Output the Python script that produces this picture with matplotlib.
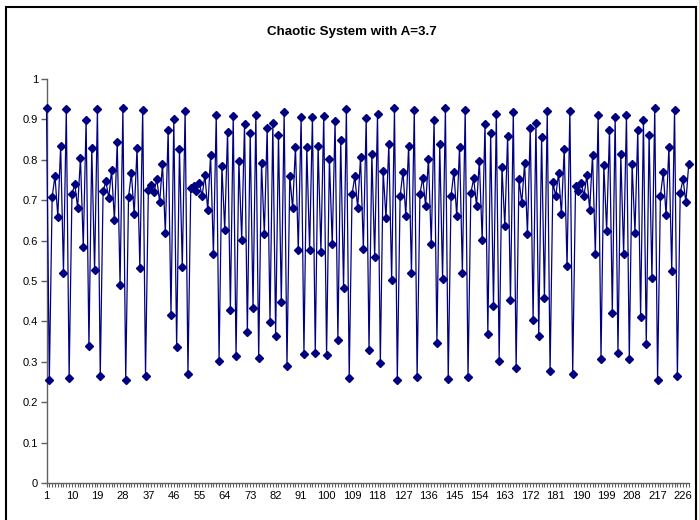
import matplotlib
matplotlib.use("Agg")
import matplotlib.pyplot as plt
from matplotlib.patches import Rectangle

plt.rcParams['font.family'] = ['Liberation Sans', 'DejaVu Sans']

title = "Chaotic System with A=3.7"

values = [
    0.927, 0.256, 0.708, 0.760, 0.659, 0.834, 0.520, 0.925, 0.261, 0.715,
    0.740, 0.681, 0.804, 0.585, 0.899, 0.338, 0.829, 0.526, 0.925, 0.264,
    0.722, 0.747, 0.705, 0.775, 0.651, 0.843, 0.491, 0.927, 0.256, 0.708,
    0.767, 0.665, 0.829, 0.531, 0.923, 0.266, 0.726, 0.738, 0.720, 0.752,
    0.695, 0.789, 0.620, 0.873, 0.417, 0.900, 0.336, 0.827, 0.534, 0.922,
    0.270, 0.731, 0.735, 0.724, 0.743, 0.711, 0.762, 0.675, 0.813, 0.566,
    0.911, 0.303, 0.785, 0.627, 0.870, 0.429, 0.908, 0.314, 0.797, 0.602,
    0.889, 0.373, 0.866, 0.432, 0.911, 0.309, 0.792, 0.616, 0.879, 0.399,
    0.891, 0.365, 0.861, 0.447, 0.918, 0.289, 0.759, 0.680, 0.832, 0.576,
    0.906, 0.320, 0.832, 0.576, 0.906, 0.323, 0.835, 0.573, 0.909, 0.317,
    0.802, 0.592, 0.896, 0.353, 0.848, 0.482, 0.926, 0.259, 0.715, 0.759,
    0.680, 0.807, 0.579, 0.903, 0.328, 0.815, 0.559, 0.913, 0.297, 0.772,
    0.655, 0.838, 0.502, 0.927, 0.256, 0.710, 0.771, 0.662, 0.835, 0.520,
    0.924, 0.262, 0.715, 0.756, 0.686, 0.802, 0.592, 0.899, 0.347, 0.838,
    0.505, 0.927, 0.257, 0.710, 0.771, 0.660, 0.832, 0.521, 0.924, 0.262,
    0.718, 0.754, 0.686, 0.797, 0.602, 0.889, 0.370, 0.866, 0.437, 0.913,
    0.301, 0.782, 0.635, 0.860, 0.452, 0.918, 0.284, 0.752, 0.693, 0.792,
    0.617, 0.879, 0.403, 0.891, 0.363, 0.856, 0.457, 0.920, 0.276, 0.744,
    0.710, 0.767, 0.665, 0.827, 0.536, 0.922, 0.271, 0.734, 0.724, 0.743,
    0.711, 0.762, 0.675, 0.813, 0.566, 0.911, 0.307, 0.787, 0.625, 0.873,
    0.422, 0.906, 0.323, 0.814, 0.566, 0.911, 0.307, 0.789, 0.620, 0.873,
    0.411, 0.898, 0.345, 0.861, 0.507, 0.927, 0.256, 0.710, 0.769, 0.663,
    0.832, 0.525, 0.924, 0.264, 0.718, 0.752, 0.695, 0.789,
]
steps = list(range(1, len(values) + 1))
xtick_labels = [str(s) for s in steps[::9]]
ytick_values = [0, 0.1, 0.2, 0.3, 0.4, 0.5, 0.6, 0.7, 0.8, 0.9, 1]
ytick_labels = ["0", "0.1", "0.2", "0.3", "0.4", "0.5", "0.6", "0.7", "0.8", "0.9", "1"]

W, H = 699, 520
fig = plt.figure(figsize=(W / 100, H / 100), dpi=100)
fig.patch.set_facecolor('white')

x0, x1 = 46.5, 688.7
y_top, y_bot = 79, 483
ax = fig.add_axes([x0 / W, (H - y_bot) / H, (x1 - x0) / W, (y_bot - y_top) / H])

ax.plot(steps, values, color='#000080', linewidth=0.9, marker='D',
        markersize=3.6, markerfacecolor='#000080', markeredgecolor='#000080',
        clip_on=False, zorder=3)

ax.set_xlim(1, len(values))
ax.set_ylim(0, 1)

for s in ['top', 'right']:
    ax.spines[s].set_visible(False)
axis_col = '#606060'
for s in ['left', 'bottom']:
    ax.spines[s].set_color(axis_col)
    ax.spines[s].set_linewidth(1.0)

ax.set_yticks(ytick_values)
ax.set_yticklabels(ytick_labels)
ax.set_xticks(steps[::9])
ax.set_xticklabels(xtick_labels)
ax.set_xticks(steps, minor=True)
ax.tick_params(axis='y', direction='out', length=4, width=1, color=axis_col,
               labelsize=8, pad=2, labelcolor='black')
ax.tick_params(axis='x', which='both', direction='out', length=3, width=0.8,
               color=axis_col, labelsize=8, pad=3, labelcolor='black')

fig.text(352 / W, 1 - 32 / H, title, ha='center', va='center',
         fontsize=9.6, fontweight='bold')

fig.patches.append(Rectangle((6 / W, -0.02), (696 - 6) / W, 1 - 7 / H + 0.02,
                             transform=fig.transFigure, fill=False,
                             edgecolor='black', linewidth=1.5))

fig.savefig('out.png', dpi=100, facecolor='white')
